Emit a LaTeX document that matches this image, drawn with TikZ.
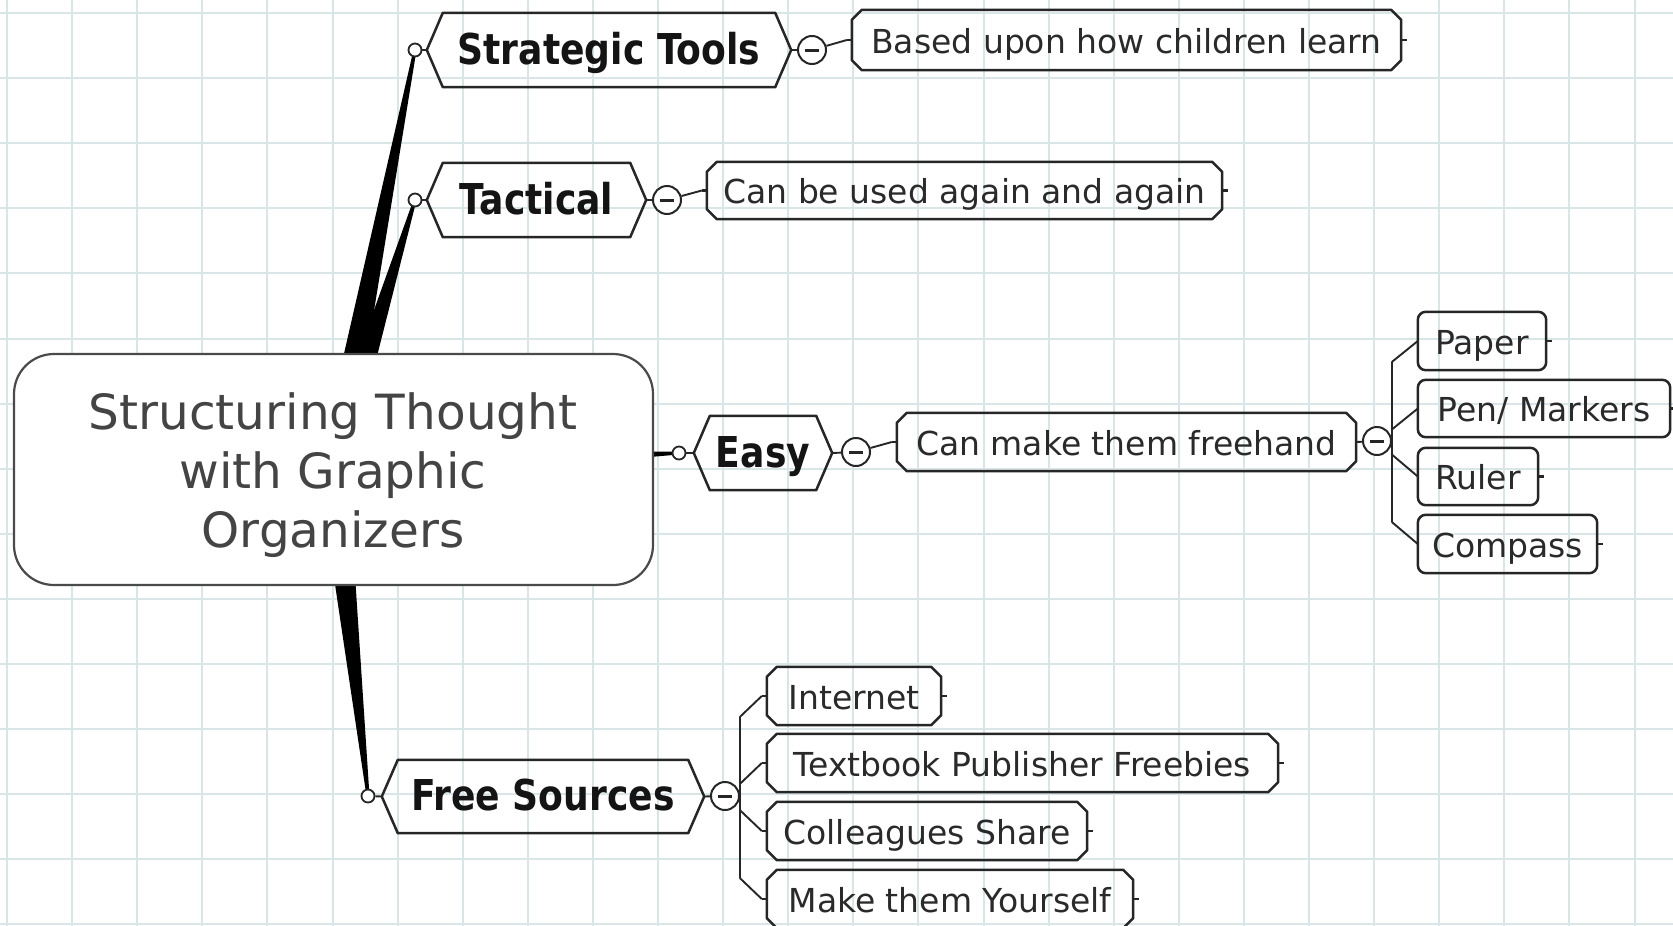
\documentclass[tikz,border=0pt]{standalone}
\usepackage{fontspec}
\setmainfont{DejaVu Sans}
\newfontfamily\topicfont{DejaVu Sans}[FakeStretch=0.85]
\usetikzlibrary{calc}
\definecolor{gridc}{HTML}{DAE5E7}
\definecolor{linec}{HTML}{262626}
\definecolor{subtxt}{HTML}{2A2A2A}
\definecolor{ctrtxt}{HTML}{444444}
\definecolor{ctrline}{HTML}{4A4A4A}

\newcommand\chambox[6]{%
  \pgfmathsetmacro\bw{#3-#2}\pgfmathsetmacro\bh{#5-#4}%
  \pgfmathsetmacro\bx{(#2+#3)/2}\pgfmathsetmacro\by{(#4+#5)/2}%
  \node[subn, minimum width=\bw pt, minimum height=\bh pt] (#1) at (\bx,\by) {#6};
  \draw[boxline] ([xshift=10pt]#1.north west) -- ([xshift=-10pt]#1.north east)
     -- ([yshift=-10pt]#1.north east) -- ([yshift=10pt]#1.south east)
     -- ([xshift=-10pt]#1.south east) -- ([xshift=10pt]#1.south west)
     -- ([yshift=10pt]#1.south west) -- ([yshift=-10pt]#1.north west) -- cycle;
  \draw[boxline] (#1.west) -- ++(-5pt,0pt) coordinate (#1-in);
}
\newcommand\roundbox[6]{%
  \pgfmathsetmacro\bw{#3-#2}\pgfmathsetmacro\bh{#5-#4}%
  \pgfmathsetmacro\bx{(#2+#3)/2}\pgfmathsetmacro\by{(#4+#5)/2}%
  \node[subn, minimum width=\bw pt, minimum height=\bh pt] (#1) at (\bx,\by) {#6};
  \draw[boxline, rounded corners=8pt] (#1.north west) rectangle (#1.south east);
}
\newcommand\hexbox[6]{%
  \pgfmathsetmacro\bw{#3-#2}\pgfmathsetmacro\bh{#5-#4}%
  \pgfmathsetmacro\bx{(#2+#3)/2}\pgfmathsetmacro\by{(#4+#5)/2}%
  \node[topicn, minimum width=\bw pt, minimum height=\bh pt] (#1) at (\bx,\by) {#6};
  \draw[boxline] (#1.west) -- ([xshift=16pt]#1.north west) -- ([xshift=-16pt]#1.north east)
     -- (#1.east) -- ([xshift=-16pt]#1.south east) -- ([xshift=16pt]#1.south west) -- cycle;
}
\newcommand\stub[1]{\draw[boxline] (#1.east) -- ++(6pt,0pt);}
\newcommand\branchwedge[2]{%
  \fill[black] ($(#1)!15pt!90:(#2)$) -- ($(#2)!1.5pt!-90:(#1)$)
     -- ($(#2)!1.5pt!90:(#1)$) -- ($(#1)!15pt!-90:(#2)$) -- cycle;}

\begin{document}
\begin{tikzpicture}[x=1pt,y=-1pt,
  subn/.style={inner sep=0pt, text=subtxt, font=\fontsize{33}{40}\selectfont,
     text height=26pt, text depth=0pt},
  topicn/.style={inner sep=0pt, text=black!92, font=\topicfont\bfseries\fontsize{42.5}{50}\selectfont,
     text height=28pt, text depth=0pt},
  boxline/.style={draw=linec, line width=2.5pt, line join=round},
  conn/.style={draw=linec, line width=1.9pt},
  smallc/.style={circle, draw=linec, fill=white, line width=1.8pt, minimum size=13pt, inner sep=0pt},
  colc/.style={circle, draw=linec, fill=white, line width=2pt, minimum size=28pt, inner sep=0pt,
     path picture={\draw[linec, line width=3pt] ([xshift=-7pt]path picture bounding box.center)
        -- ([xshift=7pt]path picture bounding box.center);}},
  central/.style={draw=ctrline, fill=white, rounded corners=40pt, line width=2.2pt,
     minimum width=639pt, minimum height=231pt, inner sep=0pt},
  ctext/.style={align=center, text=ctrtxt, font=\fontsize{48.5}{59}\selectfont, inner sep=0pt}
]
\useasboundingbox (0,0) rectangle (1673,926);
\fill[white] (0,0) rectangle (1673,926);
% grid
\foreach \i in {0,...,25} \draw[gridc, line width=2pt] ({7+65.1*\i},0) -- ({7+65.1*\i},926);
\foreach \j in {0,...,14} \draw[gridc, line width=2pt] (0,{13+65.1*\j}) -- (1673,{13+65.1*\j});

% branch points
\coordinate (ctrc) at (333,469);
\coordinate (p1) at (415,50);
\coordinate (p2) at (415,200);
\coordinate (p3) at (679,453);
\coordinate (p4) at (368,796);
\branchwedge{ctrc}{p1}
\branchwedge{ctrc}{p2}
\branchwedge{ctrc}{p3}
\branchwedge{ctrc}{p4}

% central topic
\node[central] (ctr) at (333.5,469.5) {};
\node[ctext] (ctrtext) at (333,475) {Structuring Thought\\with Graphic\\Organizers};

% main topics
\hexbox{st}{427}{791}{13}{87}{Strategic Tools}
\hexbox{ta}{427}{646}{163}{237}{Tactical}
\hexbox{ea}{694}{832}{416}{490}{Easy}
\hexbox{fs}{382}{704}{760}{833}{Free Sources}

\node[smallc] (s1) at (p1) {};
\node[smallc] (s2) at (p2) {};
\node[smallc] (s3) at (p3) {};
\node[smallc] (s4) at (p4) {};

\node[colc] (c1) at (812,50) {};
\node[colc] (c2) at (667,200) {};
\node[colc] (c3) at (856,452) {};
\node[colc] (c4) at (725,796) {};
\node[colc] (c5) at (1377,441) {};

% subtopics
\chambox{b1}{852}{1401}{10}{70}{Based upon how children learn}
\chambox{b2}{707}{1222}{162}{219}{Can be used again and again}
\chambox{b3}{897}{1356}{413}{471}{Can make them freehand}
\chambox{f1}{767}{941}{667}{725}{Internet}
\chambox{f2}{767}{1278}{734}{792}{Textbook Publisher Freebies}
\chambox{f3}{767}{1087}{802}{860}{Colleagues Share}
\chambox{f4}{767}{1133}{870}{928}{Make them Yourself}
\roundbox{e1}{1418}{1546}{312}{370}{Paper}
\roundbox{e2}{1418}{1670}{380}{437}{Pen/ Markers}
\roundbox{e3}{1418}{1538}{448}{505}{Ruler}
\roundbox{e4}{1418}{1597}{515}{573}{Compass}
\stub{b1}\stub{b2}\stub{f1}\stub{f2}\stub{f3}\stub{f4}
\stub{e1}\stub{e2}\stub{e3}\stub{e4}

% connectors
\draw[conn] (s1) -- (st.west);
\draw[conn] (s2) -- (ta.west);
\draw[conn] (s3) -- (ea.west);
\draw[conn] (s4) -- (fs.west);
\draw[conn] (st.east) -- (c1);
\draw[conn] (ta.east) -- (c2);
\draw[conn] (ea.east) -- (c3);
\draw[conn] (fs.east) -- (c4);
\draw[conn] (c1) -- (b1-in);
\draw[conn] (c2) -- (b2-in);
\draw[conn] (c3) -- (b3-in);
\draw[conn] (b3.east) -- (c5);
% easy children
\draw[conn] (e1.west) -- ++(-26pt,-21pt) coordinate (et1);
\draw[conn] (e2.west) -- ++(-26pt,-21pt);
\draw[conn] (e3.west) -- ++(-26pt,22pt);
\draw[conn] (e4.west) -- ++(-26pt,22pt) coordinate (et2);
\draw[conn] (et1) -- (et2);
% free sources children
\draw[conn] (f1-in) -- ++(-22pt,-21pt) coordinate (ft1);
\draw[conn] (f2-in) -- ++(-22pt,-21pt);
\draw[conn] (f3-in) -- ++(-22pt,21pt);
\draw[conn] (f4-in) -- ++(-22pt,21pt) coordinate (ft2);
\draw[conn] (ft1) -- (ft2);
\end{tikzpicture}
\end{document}
